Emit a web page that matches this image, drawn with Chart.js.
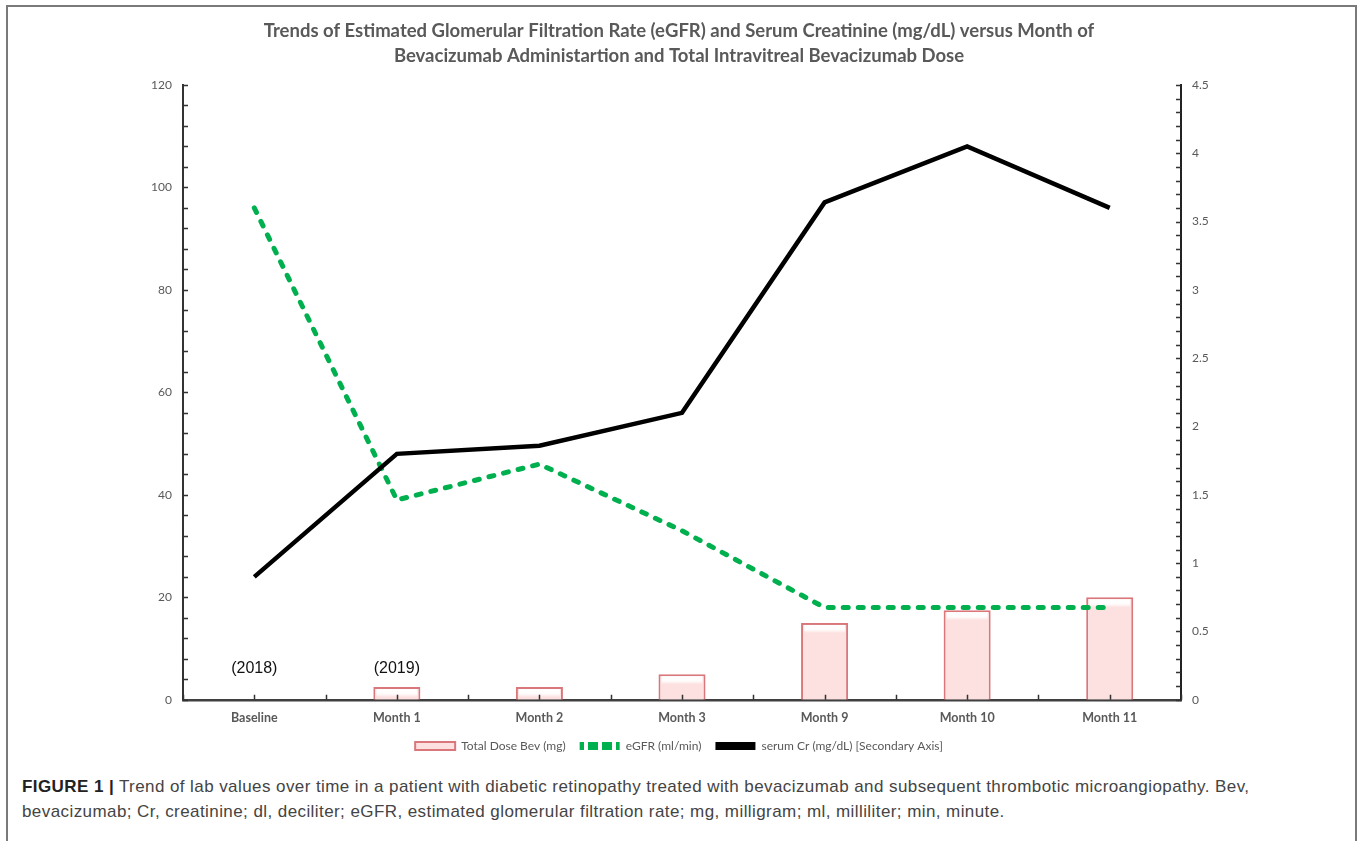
<!DOCTYPE html>
<html>
<head>
<meta charset="utf-8">
<script src="https://cdn.jsdelivr.net/npm/chart.js@4.4.1/dist/chart.umd.min.js"></script>
<style>
  body { margin: 0; background: #fff; }
  #frame {
    position: absolute; left: 6px; top: 5px; width: 1347px; height: 850px;
    border: 2px solid #7a7a7a; border-bottom: none;
  }
  #wrap { position: absolute; left: 0; top: 0; width: 1358px; height: 762px; }
  #caption {
    position: absolute; left: 22px; top: 774px;
    font-family: "Liberation Sans", Arial, sans-serif; font-size: 17px;
    letter-spacing: 0.42px; line-height: 25px; color: #444; white-space: nowrap;
  }
  #caption b { color: #222; }
</style>
</head>
<body>
<div id="frame"></div>
<div id="wrap"><canvas id="myChart"></canvas></div>
<div id="caption"><b>FIGURE 1 |</b> Trend of lab values over time in a patient with diabetic retinopathy treated with bevacizumab and subsequent thrombotic microangiopathy. Bev,<br>bevacizumab; Cr, creatinine; dl, deciliter; eGFR, estimated glomerular filtration rate; mg, milligram; ml, milliliter; min, minute.</div>

<script>
// data
let labelArray = ['Baseline', 'Month 1', 'Month 2', 'Month 3', 'Month 9', 'Month 10', 'Month 11'];
let doseBev = [null, 2.5, 2.5, 5, 15, 17.5, 20];
let eGFR = [96, 39, 46, 33, 18, 18, 18];
let serumCr = [0.9, 1.8, 1.86, 2.1, 3.64, 4.05, 3.6];
let yearNotes = ['(2018)', '(2019)'];
let yearNoteIndex = [0, 1];

let titleLines = [
    'Trends of Estimated Glomerular Filtration Rate (eGFR) and Serum Creatinine (mg/dL) versus Month of',
    'Bevacizumab Administartion and Total Intravitreal Bevacizumab Dose'
];

// dashed swatch for the eGFR legend entry
function dashPattern() {
    let c = document.createElement('canvas');
    c.width = 14; c.height = 8;
    let g = c.getContext('2d');
    g.fillStyle = '#00b04f';
    g.fillRect(0, 0, 10, 8);
    return document.getElementById('myChart').getContext('2d').createPattern(c, 'repeat');
}

// small inward tick marks like the Excel original, bar sheen, year notes
const axisTicks = {
    id: 'axisTicks',
    afterDatasetDraw(chart, args) {
        if (args.meta.type !== 'bar') return;
        const ctx = chart.ctx;
        ctx.save();
        args.meta.data.forEach(bar => {
            if (bar.skip || isNaN(bar.y)) return;
            let h = bar.base - bar.y;
            if (h < 6) return;
            let left = bar.x - bar.width / 2 + 3;
            let top = bar.y + 2;
            let g = ctx.createLinearGradient(0, top, 0, top + 8);
            g.addColorStop(0, 'rgba(255,255,255,1)');
            g.addColorStop(0.6, 'rgba(255,255,255,0.9)');
            g.addColorStop(1, 'rgba(255,255,255,0)');
            ctx.fillStyle = g;
            ctx.fillRect(left, top, bar.width - 6, Math.min(8, h - 4));
        });
        ctx.restore();
    },
    afterDraw(chart) {
        const { ctx, chartArea, scales } = chart;
        ctx.save();
        ctx.strokeStyle = '#333';
        ctx.lineWidth = 1.5;
        ctx.beginPath();
        for (let v = 0; v <= 120; v += 4) {
            let y = Math.round(scales.y.getPixelForValue(v)) + 0.5;
            ctx.moveTo(chartArea.left, y);
            ctx.lineTo(chartArea.left + 5, y);
        }
        for (let v = 0; v <= 45; v++) {
            let y = Math.round(scales.y1.getPixelForValue(v / 10)) + 0.5;
            ctx.moveTo(chartArea.right - 5, y);
            ctx.lineTo(chartArea.right, y);
        }
        for (let i = 0; i <= labelArray.length * 2; i++) {
            let x = Math.round(scales.x.getPixelForValue(i / 2 - 0.5)) + 0.5;
            ctx.moveTo(x, chartArea.bottom);
            ctx.lineTo(x, chartArea.bottom - 5);
        }
        ctx.stroke();

        ctx.fillStyle = '#111';
        ctx.font = '16px "Liberation Sans", Arial, sans-serif';
        ctx.textAlign = 'center';
        ctx.textBaseline = 'middle';
        for (let i = 0; i < yearNotes.length; i++) {
            let x = scales.x.getPixelForValue(yearNoteIndex[i]);
            ctx.fillText(yearNotes[i], x, chartArea.bottom - 31);
        }
        ctx.restore();
    }
};

var ctx = document.getElementById('myChart').getContext('2d');

var myChart = new Chart(ctx, {
    type: 'bar',
    data: {
        labels: labelArray,
        datasets: [{
            type: 'line',
            label: 'serum Cr (mg/dL) [Secondary Axis]',
            data: serumCr,
            yAxisID: 'y1',
            borderColor: '#000',
            backgroundColor: '#000',
            borderWidth: 4.5,
            pointRadius: 0,
            tension: 0,
            order: 1
        },
        {
            type: 'line',
            label: 'eGFR (ml/min)',
            data: eGFR,
            yAxisID: 'y',
            borderColor: '#00b04f',
            backgroundColor: '#00b04f',
            borderWidth: 5,
            borderDash: [5, 10],
            borderCapStyle: 'round',
            pointRadius: 0,
            tension: 0,
            order: 2
        },
        {
            type: 'bar',
            label: 'Total Dose Bev (mg)',
            data: doseBev,
            yAxisID: 'y',
            backgroundColor: '#fde1e1',
            borderColor: '#d9777b',
            borderWidth: 2,
            categoryPercentage: 1,
            barPercentage: 0.33,
            order: 3
        }]
    },
    options: {
        responsive: true,
        maintainAspectRatio: false,
        animation: false,
        layout: { padding: 0 },
        plugins: {
            title: {
                display: true,
                text: titleLines,
                color: '#595959',
                font: { family: 'Lato', size: 18.5, weight: 'bold', lineHeight: 1.35 },
                padding: { top: 18.5, bottom: 16.5 }
            },
            legend: {
                position: 'bottom',
                reverse: true,
                labels: {
                    color: '#595959',
                    font: { family: 'Lato', size: 12 },
                    boxWidth: 40,
                    boxHeight: 8,
                    padding: 14,
                    generateLabels(chart) {
                        let items = Chart.defaults.plugins.legend.labels.generateLabels(chart);
                        items.forEach(item => {
                            if (item.datasetIndex === 1) {
                                item.fillStyle = dashPattern();
                                item.lineWidth = 0;
                            } else if (item.datasetIndex === 0) {
                                item.lineWidth = 0;
                            }
                            item.lineDash = [];
                        });
                        return items;
                    }
                }
            },
            tooltip: { enabled: false }
        },
        scales: {
            x: {
                grid: { display: false, drawTicks: false },
                border: { display: true, color: '#404040', width: 2.5 },
                ticks: {
                    color: '#595959',
                    font: { family: 'Lato', size: 12.5, weight: 'bold' },
                    padding: 11
                },
                afterFit(scale) { scale.height = 26.2; }
            },
            y: {
                position: 'left',
                min: 0,
                max: 120,
                grid: { display: false, drawTicks: false },
                border: { display: true, color: '#333', width: 2 },
                ticks: {
                    stepSize: 20,
                    color: '#595959',
                    font: { family: 'Lato', size: 12 },
                    padding: 11
                },
                afterFit(scale) { scale.width = 183; }
            },
            y1: {
                position: 'right',
                min: 0,
                max: 4.5,
                grid: { display: false, drawTicks: false },
                border: { display: true, color: '#222', width: 2 },
                ticks: {
                    stepSize: 0.5,
                    color: '#595959',
                    font: { family: 'Lato', size: 12 },
                    padding: 11,
                    callback: v => String(v)
                },
                afterFit(scale) { scale.width = 177; }
            }
        }
    },
    plugins: [axisTicks]
});
</script>
</body>
</html>
